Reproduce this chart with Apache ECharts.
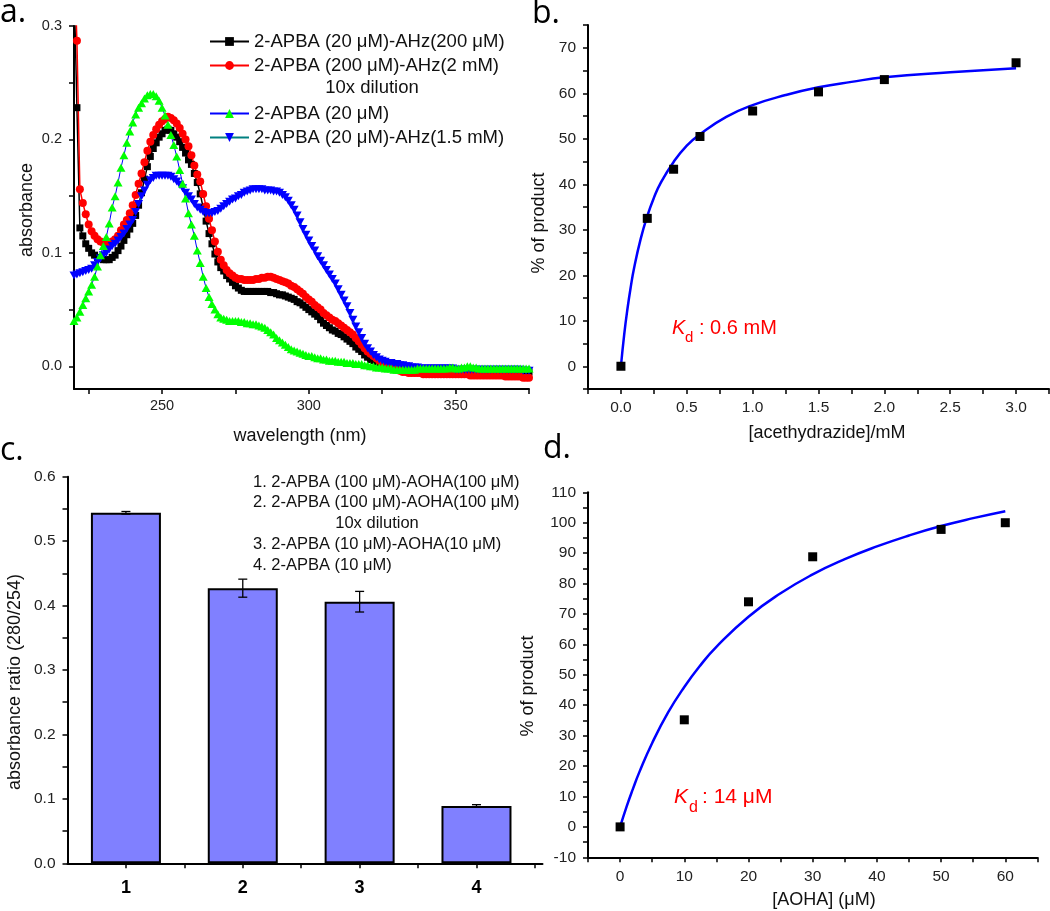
<!DOCTYPE html>
<html><head><meta charset="utf-8">
<script src="https://cdn.jsdelivr.net/npm/echarts@6.0.0/dist/echarts.min.js"></script>
<style>html,body{margin:0;padding:0;background:#fff}#c{width:1050px;height:911px}</style>
</head><body><div id="c"></div>
<script>
// ---------- Panel a: UV spectra ----------
const wavelength = [
220,221,222,223,224,225,226,227,228,229,230,231,232,233,234,235,236,237,238,239,
240,241,242,243,244,245,246,247,248,249,250,251,252,253,254,255,256,257,258,259,
260,261,262,263,264,265,266,267,268,269,270,271,272,273,274,275,276,277,278,279,
280,281,282,283,284,285,286,287,288,289,290,291,292,293,294,295,296,297,298,299,
300,301,302,303,304,305,306,307,308,309,310,311,312,313,314,315,316,317,318,319,
320,321,322,323,324,325,326,327,328,329,330,331,332,333,334,335,336,337,338,339,
340,341,342,343,344,345,346,347,348,349,350,351,352,353,354,355,356,357,358,359,
360,361,362,363,364,365,366,367,368,369,370,371,372,373,374,375];
const absAHz200 = [ // 2-APBA (20 uM)-AHz(200 uM), black squares
0.34,0.228,0.122,0.115,0.108,0.104,0.100,0.098,0.096,0.095,
0.094,0.094,0.094,0.096,0.098,0.102,0.106,0.111,0.116,0.121,
0.126,0.133,0.142,0.153,0.165,0.176,0.185,0.192,0.197,0.202,
0.205,0.208,0.209,0.208,0.205,0.202,0.198,0.193,0.188,0.182,
0.178,0.170,0.162,0.152,0.140,0.128,0.117,0.108,0.099,0.092,
0.087,0.084,0.080,0.077,0.074,0.071,0.069,0.067,0.066,0.066,
0.066,0.066,0.066,0.066,0.066,0.066,0.066,0.065,0.065,0.064,
0.063,0.063,0.062,0.061,0.060,0.059,0.057,0.056,0.054,0.052,
0.050,0.048,0.046,0.044,0.041,0.038,0.036,0.034,0.032,0.031,
0.029,0.028,0.026,0.024,0.022,0.020,0.017,0.015,0.013,0.010,
0.008,0.006,0.005,0.004,0.003,0.002,0.001,0.000,-0.001,-0.001,
-0.002,-0.002,-0.003,-0.003,-0.003,-0.003,-0.003,-0.003,-0.004,-0.004,
-0.004,-0.004,-0.004,-0.004,-0.004,-0.004,-0.004,-0.004,-0.004,-0.004,
-0.004,-0.004,-0.004,-0.004,-0.004,-0.004,-0.004,-0.005,-0.005,-0.005,
-0.005,-0.005,-0.005,-0.005,-0.005,-0.005,-0.005,-0.005,-0.005,-0.005,
-0.005,-0.005,-0.005,-0.005,-0.005,-0.005];
const absAHz2mM = [ // 2-APBA (200 uM)-AHz(2 mM) 10x dilution, red circles
0.36,0.287,0.156,0.144,0.134,0.125,0.119,0.115,0.112,0.110,
0.109,0.108,0.109,0.110,0.112,0.115,0.120,0.125,0.129,0.135,
0.142,0.151,0.161,0.170,0.180,0.190,0.198,0.204,0.209,0.213,
0.216,0.218,0.220,0.219,0.217,0.214,0.210,0.205,0.200,0.194,
0.186,0.177,0.169,0.163,0.152,0.141,0.130,0.120,0.110,0.101,
0.094,0.089,0.085,0.082,0.080,0.078,0.077,0.077,0.076,0.076,
0.076,0.076,0.077,0.077,0.078,0.078,0.079,0.079,0.078,0.077,
0.076,0.075,0.074,0.073,0.071,0.070,0.068,0.066,0.064,0.061,
0.059,0.057,0.054,0.052,0.050,0.047,0.045,0.043,0.041,0.040,
0.038,0.036,0.034,0.032,0.030,0.028,0.025,0.022,0.019,0.016,
0.013,0.011,0.009,0.007,0.005,0.003,0.002,0.000,-0.001,-0.002,
-0.003,-0.004,-0.005,-0.005,-0.006,-0.006,-0.006,-0.006,-0.006,-0.007,
-0.007,-0.007,-0.007,-0.007,-0.007,-0.007,-0.007,-0.007,-0.007,-0.007,
-0.007,-0.007,-0.007,-0.007,-0.007,-0.008,-0.008,-0.008,-0.008,-0.008,
-0.008,-0.008,-0.008,-0.008,-0.008,-0.008,-0.008,-0.009,-0.009,-0.009,
-0.009,-0.009,-0.009,-0.010,-0.010,-0.010];
const absAPBA = [ // 2-APBA (20 uM), green triangles
0.040,0.043,0.048,0.054,0.060,0.066,0.072,0.079,0.088,0.098,
0.106,0.114,0.126,0.140,0.150,0.162,0.175,0.186,0.197,0.207,
0.215,0.222,0.228,0.232,0.236,0.239,0.240,0.240,0.238,0.234,
0.228,0.221,0.213,0.204,0.195,0.185,0.173,0.161,0.148,0.135,
0.125,0.115,0.102,0.091,0.079,0.069,0.061,0.055,0.050,0.046,
0.043,0.042,0.041,0.040,0.040,0.040,0.040,0.039,0.039,0.038,
0.038,0.037,0.037,0.036,0.035,0.034,0.032,0.030,0.028,0.025,
0.023,0.021,0.019,0.017,0.015,0.014,0.013,0.012,0.011,0.010,
0.009,0.009,0.008,0.007,0.007,0.006,0.006,0.005,0.005,0.005,
0.004,0.004,0.004,0.003,0.003,0.003,0.002,0.002,0.002,0.001,
0.001,0.000,0.000,-0.001,-0.001,-0.001,-0.002,-0.002,-0.002,-0.003,
-0.003,-0.003,-0.003,-0.003,-0.003,-0.003,-0.003,-0.002,-0.002,-0.002,
-0.002,-0.002,-0.002,-0.002,-0.002,-0.002,-0.002,-0.002,-0.001,-0.001,
-0.002,-0.002,-0.001,-0.001,0.000,0.000,-0.001,-0.001,-0.002,-0.002,
-0.002,-0.002,-0.002,-0.002,-0.002,-0.002,-0.002,-0.002,-0.002,-0.002,
-0.002,-0.002,-0.002,-0.002,-0.002,-0.002];
const absAHz15mM = [ // 2-APBA (20 uM)-AHz(1.5 mM), blue down-triangles
0.080,0.081,0.082,0.083,0.084,0.085,0.086,0.089,0.092,0.095,
0.098,0.100,0.103,0.106,0.108,0.111,0.114,0.117,0.121,0.125,
0.129,0.136,0.143,0.150,0.155,0.160,0.164,0.166,0.168,0.168,
0.168,0.168,0.168,0.167,0.165,0.163,0.160,0.157,0.153,0.150,
0.147,0.143,0.140,0.138,0.136,0.135,0.135,0.135,0.136,0.137,
0.139,0.141,0.143,0.145,0.147,0.148,0.150,0.151,0.153,0.154,
0.155,0.156,0.156,0.156,0.156,0.155,0.155,0.155,0.154,0.154,
0.153,0.151,0.149,0.146,0.142,0.138,0.133,0.127,0.121,0.116,
0.111,0.106,0.102,0.097,0.093,0.089,0.085,0.081,0.077,0.073,
0.068,0.063,0.058,0.053,0.047,0.041,0.035,0.030,0.025,0.020,
0.016,0.013,0.010,0.008,0.006,0.005,0.004,0.003,0.003,0.002,
0.002,0.001,0.001,0.000,0.000,-0.001,-0.001,-0.001,-0.002,-0.002,
-0.002,-0.002,-0.002,-0.002,-0.002,-0.002,-0.002,-0.002,-0.002,-0.002,
-0.003,-0.003,-0.003,-0.003,-0.003,-0.003,-0.003,-0.003,-0.003,-0.003,
-0.003,-0.003,-0.003,-0.003,-0.003,-0.003,-0.003,-0.003,-0.003,-0.003,
-0.003,-0.003,-0.003,-0.004,-0.004,-0.004];
const seriesNamesA = ['2-APBA (20 μM)-AHz(200 μM)','2-APBA (200 μM)-AHz(2 mM)','2-APBA (20 μM)','2-APBA (20 μM)-AHz(1.5 mM)'];
const aTickX = [225,250,275,300,325,350,375];
const aLabelX = [250,300,350];
const aTickY = [0,0.05,0.1,0.15,0.2,0.25,0.3];
const aLabelY = [0,0.1,0.2,0.3];

// ---------- Panel b: acethydrazide titration ----------
const acethydrazideMM = [0,0.2,0.4,0.6,1.0,1.5,2.0,3.0];
const productB = [0,32.5,43.3,50.5,56.1,60.3,63.0,66.7];
const fitBX = [0,0.025,0.05,0.075,0.1,0.15,0.2,0.25,0.3,0.4,0.5,0.6,0.8,1.0,1.25,1.5,1.75,2.0,2.5,3.0];
const fitBY = [0,7.0,12.7,17.5,21.6,28.0,33.0,37.0,40.2,44.9,48.5,51.0,54.8,57.4,59.6,61.3,62.5,63.5,64.6,65.5];
const bTickX = [-0.25,0,0.25,0.5,0.75,1,1.25,1.5,1.75,2,2.25,2.5,2.75,3,3.25];
const bLabelX = [0,0.5,1,1.5,2,2.5,3];
const bTickY = [-5,0,5,10,15,20,25,30,35,40,45,50,55,60,65,70,75];
const bLabelY = [0,10,20,30,40,50,60,70];

// ---------- Panel c: absorbance ratio bars ----------
const barCats = [1,2,3,4];
const barRatio = [0.544,0.427,0.406,0.089];
const barErr = [0.002,0.014,0.016,0.002];
const cTickX = [1,1.5,2,2.5,3,3.5,4,4.5];
const cTickY = [0,0.05,0.1,0.15,0.2,0.25,0.3,0.35,0.4,0.45,0.5,0.55,0.6];
const cLabelY = [0,0.1,0.2,0.3,0.4,0.5,0.6];
const legendC = ['1. 2-APBA (100 μM)-AOHA(100 μM)','2. 2-APBA (100 μM)-AOHA(100 μM)','10x dilution','3. 2-APBA (10 μM)-AOHA(10 μM)','4. 2-APBA (10 μM)'];

// ---------- Panel d: AOHA titration ----------
const aohaUM = [0,10,20,30,50,60];
const productD = [0,35.2,74.0,88.8,97.8,100];
const fitDX = [0,1,2,3,5,7.5,10,12.5,15,20,25,30,35,40,45,50,55,60];
const fitDY = [0,6.6,12.5,18.0,27.6,37.7,46.0,53.1,59.2,69.1,76.8,83.0,88.0,92.2,95.8,98.9,101.5,103.8];
const dTickX = [-5,0,5,10,15,20,25,30,35,40,45,50,55,60,65];
const dLabelX = [0,10,20,30,40,50,60];
const dTickY = [-10,-5,0,5,10,15,20,25,30,35,40,45,50,55,60,65,70,75,80,85,90,95,100,105,110];
const dLabelY = [-10,0,10,20,30,40,50,60,70,80,90,100,110];

const FF = '"Liberation Sans", Arial, sans-serif';
const LF = '"Open Sans", "Noto Sans", sans-serif';
const pairs = (xs, ys) => xs.map((x, i) => [x, ys[i]]);

function axis(o) {
  return {
    type: 'value', gridIndex: o.g, min: o.min, max: o.max,
    axisLine: {show: true, onZero: false, lineStyle: {color: '#000', width: 2}},
    axisTick: {show: true, customValues: o.ticks, length: 5, lineStyle: {color: '#000', width: 1.5}},
    axisLabel: Object.assign({customValues: o.labels, color: '#222', fontSize: o.fs, fontFamily: FF, margin: o.margin,
      formatter: o.fmt}, o.label || {}),
    splitLine: {show: false}
  };
}

const chart = echarts.init(document.getElementById('c'), null, {renderer: 'canvas'});
const downTri = 'path://M0,0L10,0L5,9Z';

const option = {
  animation: false,
  backgroundColor: '#fff',
  grid: [
    {left: 74, top: 26, width: 455, height: 363},
    {left: 588, top: 25, width: 461, height: 364},
    {left: 67.5, top: 476.7, width: 475, height: 386.6},
    {left: 588, top: 492.3, width: 449.4, height: 365}
  ],
  xAxis: [
    axis({g: 0, min: 220, max: 375, ticks: aTickX, labels: aLabelX, fs: 14.5, margin: 9, fmt: v => String(v)}),
    axis({g: 1, min: -0.25, max: 3.25, ticks: bTickX, labels: bLabelX, fs: 15.5, margin: 11, fmt: v => v.toFixed(1)}),
    axis({g: 2, min: 0.5, max: 4.565, ticks: cTickX, labels: barCats, fs: 18, margin: 16, fmt: v => String(v),
      label: {fontWeight: 'bold', color: '#000'}}),
    axis({g: 3, min: -5, max: 65, ticks: dTickX, labels: dLabelX, fs: 15.5, margin: 11, fmt: v => String(v)})
  ],
  yAxis: [
    axis({g: 0, min: -0.02, max: 0.3, ticks: aTickY, labels: aLabelY, fs: 14.5, margin: 12, fmt: v => v.toFixed(1)}),
    axis({g: 1, min: -5, max: 75, ticks: bTickY, labels: bLabelY, fs: 15.5, margin: 12, fmt: v => String(v)}),
    axis({g: 2, min: 0, max: 0.6, ticks: cTickY, labels: cLabelY, fs: 15.5, margin: 12, fmt: v => v.toFixed(1)}),
    axis({g: 3, min: -10, max: 110, ticks: dTickY, labels: dLabelY, fs: 15.5, margin: 12, fmt: v => String(v)})
  ],
  legend: [
    {left: 209, top: 32, orient: 'vertical', padding: 0, itemGap: 5, itemWidth: 39, itemHeight: 11,
      data: [seriesNamesA[0], seriesNamesA[1]], selectedMode: false,
      textStyle: {fontSize: 18.5, fontFamily: FF, color: '#111'}},
    {left: 209, top: 104, orient: 'vertical', padding: 0, itemGap: 5, itemWidth: 39, itemHeight: 11,
      data: [seriesNamesA[2], seriesNamesA[3]], selectedMode: false,
      textStyle: {fontSize: 18.5, fontFamily: FF, color: '#111'}}
  ],
  series: [
    {name: seriesNamesA[0], type: 'line', xAxisIndex: 0, yAxisIndex: 0, data: pairs(wavelength, absAHz200),
      symbol: 'rect', symbolSize: 7, clip: true, itemStyle: {color: '#000'}, lineStyle: {color: '#000', width: 1.5}},
    {name: seriesNamesA[1], type: 'line', xAxisIndex: 0, yAxisIndex: 0, data: pairs(wavelength, absAHz2mM),
      symbol: 'circle', symbolSize: 8, clip: true, itemStyle: {color: '#FF0000'}, lineStyle: {color: '#FF0000', width: 1.5}},
    {name: seriesNamesA[3], type: 'line', xAxisIndex: 0, yAxisIndex: 0, data: pairs(wavelength, absAHz15mM),
      symbol: downTri, symbolSize: [9, 8], clip: true, itemStyle: {color: '#0000FF'}, lineStyle: {color: '#008080', width: 1.5}},
    {name: seriesNamesA[2], type: 'line', xAxisIndex: 0, yAxisIndex: 0, data: pairs(wavelength, absAPBA),
      symbol: 'triangle', symbolSize: [9, 8], clip: true, itemStyle: {color: '#00FF00'}, lineStyle: {color: '#0000FF', width: 1}},

    {name: 'fitB', type: 'line', xAxisIndex: 1, yAxisIndex: 1, data: pairs(fitBX, fitBY), smooth: true,
      showSymbol: false, lineStyle: {color: '#0000FF', width: 2.5}},
    {name: 'pointsB', type: 'scatter', xAxisIndex: 1, yAxisIndex: 1, data: pairs(acethydrazideMM, productB),
      symbol: 'rect', symbolSize: 9, itemStyle: {color: '#000', opacity: 1}, z: 3},

    {name: 'ratio', type: 'bar', xAxisIndex: 2, yAxisIndex: 2, data: pairs(barCats, barRatio), barWidth: 70,
      itemStyle: {color: '#8080FF', borderColor: '#000', borderWidth: 2}},
    {name: 'err', type: 'custom', xAxisIndex: 2, yAxisIndex: 2, z: 4,
      data: barCats.map((c, i) => [c, barRatio[i] - barErr[i], barRatio[i] + barErr[i]]),
      encode: {x: 0, y: [1, 2]},
      renderItem: function (params, api) {
        const x = api.value(0);
        const top = api.coord([x, api.value(2)]);
        const bot = api.coord([x, api.value(1)]);
        const w = 4.5, st = {stroke: '#000', lineWidth: 1.3};
        return {type: 'group', children: [
          {type: 'line', shape: {x1: top[0], y1: top[1], x2: bot[0], y2: bot[1]}, style: st},
          {type: 'line', shape: {x1: top[0] - w, y1: top[1], x2: top[0] + w, y2: top[1]}, style: st},
          {type: 'line', shape: {x1: bot[0] - w, y1: bot[1], x2: bot[0] + w, y2: bot[1]}, style: st}
        ]};
      }},

    {name: 'fitD', type: 'line', xAxisIndex: 3, yAxisIndex: 3, data: pairs(fitDX, fitDY), smooth: true,
      showSymbol: false, lineStyle: {color: '#0000FF', width: 2.5}},
    {name: 'pointsD', type: 'scatter', xAxisIndex: 3, yAxisIndex: 3, data: pairs(aohaUM, productD),
      symbol: 'rect', symbolSize: 9, itemStyle: {color: '#000', opacity: 1}, z: 3}
  ],
  graphic: [
    // panel letters
    {type: 'text', x: 0, y: 13, style: {text: 'a.', fontSize: 32, fontFamily: LF, fill: '#000', verticalAlign: 'middle', textVerticalAlign: 'middle'}},
    {type: 'text', x: 532, y: 14, style: {text: 'b.', fontSize: 32, fontFamily: LF, fill: '#000', verticalAlign: 'middle', textVerticalAlign: 'middle'}},
    {type: 'text', x: 0, y: 451, style: {text: 'c.', fontSize: 32, fontFamily: LF, fill: '#000', verticalAlign: 'middle', textVerticalAlign: 'middle'}},
    {type: 'text', x: 543, y: 449, style: {text: 'd.', fontSize: 32, fontFamily: LF, fill: '#000', verticalAlign: 'middle', textVerticalAlign: 'middle'}},
    // axis titles
    {type: 'text', x: 27, y: 210, rotation: Math.PI / 2, style: {text: 'absorbance', fontSize: 18, fontFamily: FF, fill: '#111', align: 'center', textAlign: 'center', verticalAlign: 'middle', textVerticalAlign: 'middle'}},
    {type: 'text', x: 300, y: 436, style: {text: 'wavelength (nm)', fontSize: 18, fontFamily: FF, fill: '#111', align: 'center', textAlign: 'center', verticalAlign: 'middle', textVerticalAlign: 'middle'}},
    {type: 'text', x: 539, y: 223, rotation: Math.PI / 2, style: {text: '% of product', fontSize: 18, fontFamily: FF, fill: '#111', align: 'center', textAlign: 'center', verticalAlign: 'middle', textVerticalAlign: 'middle'}},
    {type: 'text', x: 827, y: 433, style: {text: '[acethydrazide]/mM', fontSize: 18, fontFamily: FF, fill: '#111', align: 'center', textAlign: 'center', verticalAlign: 'middle', textVerticalAlign: 'middle'}},
    {type: 'text', x: 15, y: 682, rotation: Math.PI / 2, style: {text: 'absorbance ratio (280/254)', fontSize: 18, fontFamily: FF, fill: '#111', align: 'center', textAlign: 'center', verticalAlign: 'middle', textVerticalAlign: 'middle'}},
    {type: 'text', x: 528, y: 686, rotation: Math.PI / 2, style: {text: '% of product', fontSize: 18, fontFamily: FF, fill: '#111', align: 'center', textAlign: 'center', verticalAlign: 'middle', textVerticalAlign: 'middle'}},
    {type: 'text', x: 824, y: 900, style: {text: '[AOHA] (μM)', fontSize: 18, fontFamily: FF, fill: '#111', align: 'center', textAlign: 'center', verticalAlign: 'middle', textVerticalAlign: 'middle'}},
    // legend extra line in a
    {type: 'text', x: 372, y: 88, style: {text: '10x dilution', fontSize: 18.5, fontFamily: FF, fill: '#111', align: 'center', textAlign: 'center', verticalAlign: 'middle', textVerticalAlign: 'middle'}},
    // legend lines in c
    {type: 'text', x: 253, y: 482, style: {text: legendC[0], fontSize: 16.5, fontFamily: FF, fill: '#111', verticalAlign: 'middle', textVerticalAlign: 'middle'}},
    {type: 'text', x: 253, y: 502, style: {text: legendC[1], fontSize: 16.5, fontFamily: FF, fill: '#111', verticalAlign: 'middle', textVerticalAlign: 'middle'}},
    {type: 'text', x: 377, y: 523, style: {text: legendC[2], fontSize: 16.5, fontFamily: FF, fill: '#111', align: 'center', textAlign: 'center', verticalAlign: 'middle', textVerticalAlign: 'middle'}},
    {type: 'text', x: 253, y: 544, style: {text: legendC[3], fontSize: 16.5, fontFamily: FF, fill: '#111', verticalAlign: 'middle', textVerticalAlign: 'middle'}},
    {type: 'text', x: 253, y: 565, style: {text: legendC[4], fontSize: 16.5, fontFamily: FF, fill: '#111', verticalAlign: 'middle', textVerticalAlign: 'middle'}},
    // Kd annotations
    {type: 'text', x: 672, y: 328, style: {text: 'K', fontSize: 20, fontStyle: 'italic', fontFamily: FF, fill: '#FF0000', verticalAlign: 'middle', textVerticalAlign: 'middle'}},
    {type: 'text', x: 685, y: 338, style: {text: 'd', fontSize: 15, fontFamily: FF, fill: '#FF0000', verticalAlign: 'middle', textVerticalAlign: 'middle'}},
    {type: 'text', x: 699, y: 328, style: {text: ': 0.6 mM', fontSize: 20, fontFamily: FF, fill: '#FF0000', verticalAlign: 'middle', textVerticalAlign: 'middle'}},
    {type: 'text', x: 674, y: 797, style: {text: 'K', fontSize: 21, fontStyle: 'italic', fontFamily: FF, fill: '#FF0000', verticalAlign: 'middle', textVerticalAlign: 'middle'}},
    {type: 'text', x: 689, y: 808, style: {text: 'd', fontSize: 16, fontFamily: FF, fill: '#FF0000', verticalAlign: 'middle', textVerticalAlign: 'middle'}},
    {type: 'text', x: 702, y: 797, style: {text: ': 14 μM', fontSize: 21, fontFamily: FF, fill: '#FF0000', verticalAlign: 'middle', textVerticalAlign: 'middle'}}
  ]
};
chart.setOption(option);
</script></body></html>
